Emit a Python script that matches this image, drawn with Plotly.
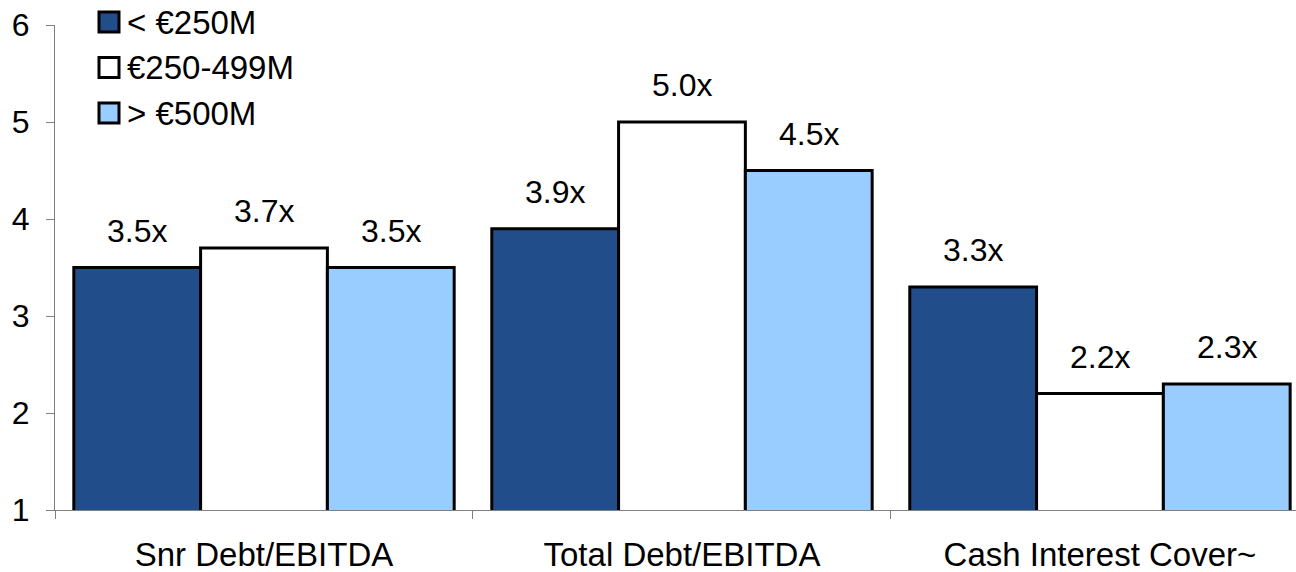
import plotly.graph_objects as go

# Leverage multiples by deal size
categories = ["Snr Debt/EBITDA", "Total Debt/EBITDA", "Cash Interest Cover~"]
series_names = ["< €250M", "€250-499M", "> €500M"]
small_deals = [3.5, 3.9, 3.3]
mid_deals = [3.7, 5.0, 2.2]
large_deals = [3.5, 4.5, 2.3]
y_ticks = [1, 2, 3, 4, 5, 6]

series_values = [small_deals, mid_deals, large_deals]
colors = ["#214E8A", "#FFFFFF", "#99CCFF"]

FONT = "Liberation Sans, Arial, sans-serif"
BARGAP = 0.09

fig = go.Figure()
for name, vals, col in zip(series_names, series_values, colors):
    fig.add_trace(go.Bar(
        x=categories, y=vals, name=name,
        marker=dict(color=col, line=dict(color="black", width=3)),
        showlegend=False,
    ))

# value labels above each bar, positioned on the category axis
bar_w = (1 - BARGAP) / len(series_values)
for k, vals in enumerate(series_values):
    for i, v in enumerate(vals):
        fig.add_annotation(
            x=i + (k - 1) * bar_w, y=v, xref="x", yref="y",
            text=f"{v:.1f}x", showarrow=False,
            yanchor="middle", yshift=37,
            font=dict(family=FONT, size=32, color="black"),
        )

# custom legend with larger swatches
L, R, T, B = 55, 1296, 25, 510
def px_x(p):
    return (p - L) / (R - L)
def px_y(p):
    return (B - p) / (B - T)

legend_centers = [22, 67.5, 113]
for name, col, cy in zip(series_names, colors, legend_centers):
    fig.add_shape(
        type="rect", xref="paper", yref="paper",
        x0=px_x(99), x1=px_x(119), y0=px_y(cy + 10), y1=px_y(cy - 10),
        fillcolor=col, line=dict(color="black", width=3),
    )
    fig.add_annotation(
        x=px_x(125), y=px_y(cy), xref="paper", yref="paper",
        text=name, showarrow=False, xanchor="left", yanchor="middle",
        font=dict(family=FONT, size=33, color="black"),
    )

fig.update_layout(
    barmode="group", bargap=BARGAP, bargroupgap=0,
    width=1296, height=572,
    margin=dict(l=L, r=0, t=T, b=572 - B, pad=0, autoexpand=False),
    paper_bgcolor="white", plot_bgcolor="white",
    font=dict(family=FONT, size=33, color="black"),
    xaxis=dict(
        type="category", range=[-0.5, 2.469], automargin=False,
        showline=True, linecolor="#808080", linewidth=1,
        ticks="outside", tickson="boundaries", ticklen=8, tickcolor="#808080",
        tickfont=dict(family=FONT, size=33, color="black"),
        ticklabelstandoff=15,
        showgrid=False, zeroline=False,
    ),
    yaxis=dict(
        range=[1, 6], tickvals=y_ticks, automargin=False,
        showline=True, linecolor="#808080", linewidth=1,
        ticks="outside", ticklen=8, tickcolor="#808080",
        tickfont=dict(family=FONT, size=32, color="black"),
        ticklabelstandoff=10,
        showgrid=False, zeroline=False,
    ),
)

fig.write_html("out.html")
